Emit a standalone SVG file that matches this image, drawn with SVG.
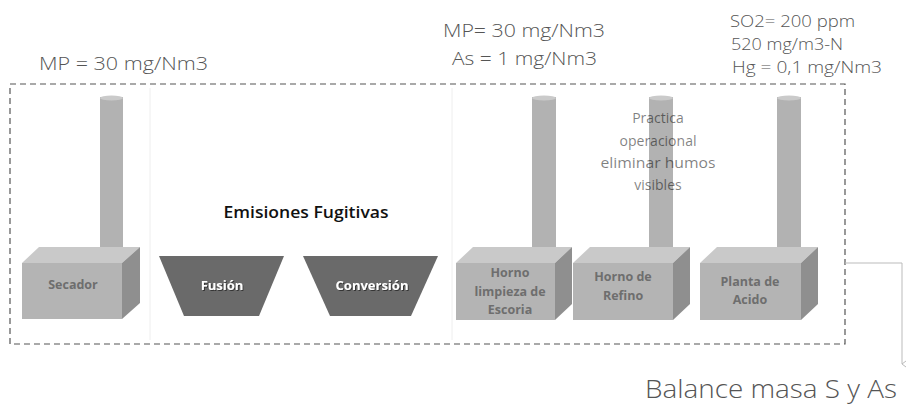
<svg xmlns="http://www.w3.org/2000/svg" width="906" height="407" viewBox="0 0 906 407">
<style>
.note{font-family:"Open Sans","Liberation Sans",sans-serif;font-weight:300;fill:#555}
.lbl{font-family:"Open Sans","Liberation Sans",sans-serif;font-weight:700;font-size:12.5px;fill:#6e6e6e;text-anchor:middle}
.tlbl{font-family:"Open Sans","Liberation Sans",sans-serif;font-weight:700;font-size:13px;fill:#fff;text-anchor:middle}
.chim{fill:#b2b2b2}
.chtop{fill:#cacaca}
.front{fill:#b4b4b4}
.top{fill:#c9c9c9}
.side{fill:#8f8f8f}
.trap{fill:#6a6a6a}
.sep{stroke:#eeeeee;stroke-width:1}
.prac{font-family:"Open Sans","Liberation Sans",sans-serif;font-size:14px;fill:#000;fill-opacity:0.5;text-anchor:middle}
</style>
<defs>
<marker id="ah" markerWidth="8" markerHeight="8" refX="4" refY="7" orient="auto-start-reverse" markerUnits="userSpaceOnUse">
<path d="M1,3 L4,7 L7,3" fill="none" stroke="#bbb" stroke-width="1"/>
</marker>
<filter id="sh" x="-10%" y="-10%" width="120%" height="130%"><feDropShadow dx="1" dy="1" stdDeviation="0.5" flood-color="#000" flood-opacity="0.5"/></filter>
</defs>
<rect width="906" height="407" fill="#fff"/>

<g id="boundary">
<rect x="10" y="84" width="835" height="260" fill="none" stroke="#555" stroke-width="1.2" stroke-dasharray="6 4"/>
<line class="sep" x1="150" y1="88" x2="150" y2="340"/>
<line class="sep" x1="452" y1="88" x2="452" y2="340"/>
</g>

<g id="texts">
<text class="note" x="39" y="70" font-size="19" textLength="169" lengthAdjust="spacingAndGlyphs">MP = 30 mg/Nm3</text>
<text class="note" x="443" y="37" font-size="18" textLength="162" lengthAdjust="spacingAndGlyphs">MP= 30 mg/Nm3</text>
<text class="note" x="452" y="65" font-size="18" textLength="145" lengthAdjust="spacingAndGlyphs">As = 1 mg/Nm3</text>
<text class="note" x="730" y="27" font-size="16" textLength="125" lengthAdjust="spacingAndGlyphs">SO2= 200 ppm</text>
<text class="note" x="731" y="50" font-size="16" textLength="112" lengthAdjust="spacingAndGlyphs">520 mg/m3-N</text>
<text class="note" x="732" y="73" font-size="16" textLength="150" lengthAdjust="spacingAndGlyphs">Hg = 0,1 mg/Nm3</text>
<text x="306" y="218" font-family="'Open Sans','Liberation Sans',sans-serif" font-weight="600" font-size="16" fill="#111" text-anchor="middle" textLength="165" lengthAdjust="spacingAndGlyphs">Emisiones Fugitivas</text>
<text class="note" x="645" y="398" font-size="25" fill="#444" textLength="252" lengthAdjust="spacingAndGlyphs">Balance masa S y As</text>
</g>

<g id="secador">
<rect class="chim" x="100" y="97" width="23" height="160"/>
<ellipse class="chtop" cx="111.5" cy="98" rx="11.5" ry="2.5"/>
<polygon class="top" points="22,263 39,247 140,247 122,263"/>
<polygon class="side" points="122,263 140,247 140,303 122,319"/>
<rect class="front" x="22" y="263" width="100" height="56"/>
<text class="lbl" x="73" y="289">Secador</text>
</g>

<g id="fusion">
<polygon class="trap" points="159,256 284,256 259,316 184,316"/>
<text class="tlbl" x="222" y="290" filter="url(#sh)">Fusión</text>
</g>

<g id="conversion">
<polygon class="trap" points="303,256 438,256 411,316 330,316"/>
<text class="tlbl" x="372" y="290" filter="url(#sh)">Conversión</text>
</g>

<g id="horno-limpieza">
<rect class="chim" x="532" y="97" width="24" height="160"/>
<ellipse class="chtop" cx="544" cy="98" rx="12" ry="2.5"/>
<polygon class="top" points="456,263 473,247 572,247 555,263"/>
<polygon class="side" points="555,263 572,247 572,304 555,320"/>
<rect class="front" x="456" y="263" width="99" height="57"/>
<text class="lbl" x="510" y="277">Horno</text>
<text class="lbl" x="510" y="296">limpieza de</text>
<text class="lbl" x="510" y="314">Escoria</text>
</g>

<g id="horno-refino">
<rect class="chim" x="649" y="97" width="24" height="160"/>
<ellipse class="chtop" cx="661" cy="98" rx="12" ry="2.5"/>
<polygon class="top" points="573,263 590,247 690,247 673,263"/>
<polygon class="side" points="673,263 690,247 690,304 673,320"/>
<rect class="front" x="573" y="263" width="100" height="57"/>
<text class="lbl" x="623" y="281">Horno de</text>
<text class="lbl" x="623" y="300">Refino</text>
<text class="prac" x="658" y="123">Practica</text>
<text class="prac" x="658" y="146">operacional</text>
<text class="prac" x="658" y="168" textLength="115" lengthAdjust="spacingAndGlyphs">eliminar humos</text>
<text class="prac" x="658" y="190">visibles</text>
</g>

<g id="planta-acido">
<rect class="chim" x="777" y="97" width="24" height="160"/>
<ellipse class="chtop" cx="789" cy="98" rx="12" ry="2.5"/>
<polygon class="top" points="700,263 717,247 818,247 801,263"/>
<polygon class="side" points="801,263 818,247 818,304 801,320"/>
<rect class="front" x="700" y="263" width="101" height="57"/>
<text class="lbl" x="750" y="286">Planta de</text>
<text class="lbl" x="750" y="304">Acido</text>
</g>

<g id="connectors">
<polyline points="845,263 902,263 902,364" fill="none" stroke="#bbb" stroke-width="1" marker-end="url(#ah)"/>
</g>
</svg>
